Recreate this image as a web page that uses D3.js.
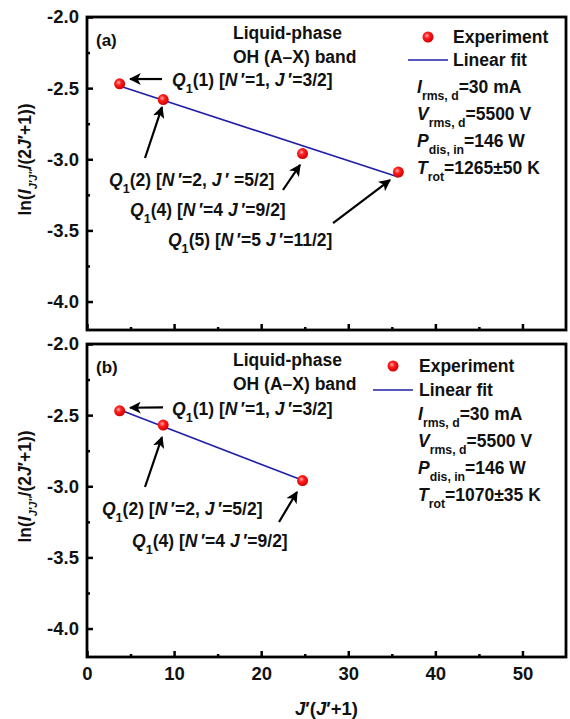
<!DOCTYPE html>
<html>
<head>
<meta charset="utf-8">
<script src="https://cdn.jsdelivr.net/npm/d3@7"></script>
<style>
  html, body { margin: 0; padding: 0; background: #fff; }
  svg { display: block; }
  text { font-family: "Liberation Sans", Arial, sans-serif; font-weight: bold; fill: #111; }
</style>
</head>
<body>
<svg id="chart" width="570" height="719"></svg>
<script>
// J'(J'+1) for the Q1 lines and the Boltzmann-plot ordinates
const xA = [3.75, 8.75, 24.75, 35.75];
const lnA = [-2.47, -2.58, -2.96, -3.09];
const xB = [3.75, 8.75, 24.75];
const lnB = [-2.47, -2.57, -2.96];

const xTicks = [0, 10, 20, 30, 40, 50];
const xMinor = [5, 15, 25, 35, 45];
const yTicks = [-2.0, -2.5, -3.0, -3.5, -4.0];
const yMinor = [-2.25, -2.75, -3.25, -3.75];

// Line labels: [Q index, N', J'] and their text / arrow positions in data units
const labelsA = [
  { q: "1", n: "1", j: "3/2", comma: true, gap: "", tx: 9.76, ty: -2.443, from: [8.61, -2.436], to: [4.94, -2.436] },
  { q: "2", n: "2", j: "5/2", comma: true, gap: " ", tx: 2.53, ty: -3.146, from: [6.66, -2.991], to: [8.61, -2.633] },
  { q: "4", n: "4", j: "9/2", comma: false, gap: "", tx: 4.94, ty: -3.357, from: [22.5, -3.216], to: [24.46, -3.040] },
  { q: "5", n: "5", j: "11/2", comma: false, gap: "", tx: 9.30, ty: -3.567, from: [28.25, -3.448], to: [34.79, -3.146] }
];
const labelsB = [
  { q: "1", n: "1", j: "3/2", comma: true, gap: "", tx: 9.76, ty: -2.457, from: [8.73, -2.445], to: [4.94, -2.448] },
  { q: "2", n: "2", j: "5/2", comma: true, gap: "", tx: 1.72, ty: -3.160, from: [6.66, -3.005], to: [8.61, -2.654] },
  { q: "4", n: "4", j: "9/2", comma: false, gap: "", tx: 5.17, ty: -3.385, from: [22.05, -3.251], to: [24.11, -3.040] }
];

// Discharge parameters shown beside each plot
const paramsA = [
  ["I", "rms, d", "=30 mA"],
  ["V", "rms, d", "=5500 V"],
  ["P", "dis, in", "=146 W"],
  ["T", "rot", "=1265\u00B150 K"]
];
const paramsB = [
  ["I", "rms, d", "=30 mA"],
  ["V", "rms, d", "=5500 V"],
  ["P", "dis, in", "=146 W"],
  ["T", "rot", "=1070\u00B135 K"]
];

const svg = d3.select("#chart");
const left = 87, right = 566;
const panelH = 313;
const xDomain = [0, 55];
const yDomain = [-4.2, -2.0];
const FONT = "Liberation Sans, Arial, sans-serif";

const x = d3.scaleLinear().domain(xDomain).range([left, right]);

const defs = svg.append("defs");
const grad = defs.append("radialGradient").attr("id", "dotGrad")
  .attr("cx", "40%").attr("cy", "38%").attr("r", "60%");
grad.append("stop").attr("offset", "0%").attr("stop-color", "#ffb0b0");
grad.append("stop").attr("offset", "40%").attr("stop-color", "#ff2020");
grad.append("stop").attr("offset", "100%").attr("stop-color", "#d40000");

defs.append("marker").attr("id", "arrowHead")
  .attr("viewBox", "0 0 10 10").attr("refX", 9).attr("refY", 5)
  .attr("markerWidth", 5.4).attr("markerHeight", 5.4).attr("markerUnits", "strokeWidth")
  .attr("orient", "auto")
  .append("path").attr("d", "M0,0 L10,5 L0,10 L2.5,5 Z").attr("fill", "#000");

// write a run of styled pieces into a text element
function rich(sel, parts) {
  parts.forEach(p => {
    const t = sel.append("tspan").text(p.t);
    if (p.i) t.attr("font-style", "italic");
    if (p.sub) t.attr("font-size", p.fs || "0.72em").attr("baseline-shift", "sub");
  });
  return sel;
}

function linearFit(xs, ys) {
  const mx = d3.mean(xs), my = d3.mean(ys);
  const sxy = d3.sum(xs, (v, i) => (v - mx) * (ys[i] - my));
  const sxx = d3.sum(xs, v => (v - mx) * (v - mx));
  const b = sxy / sxx;
  return { b, a: my - b * mx };
}

function styleTicks(a) {
  a.select(".domain").remove();
  a.selectAll("line").attr("stroke", "#000").attr("stroke-width", 2.5);
  a.selectAll("text").attr("font-size", 18.5).attr("fill", "#111")
    .attr("font-family", FONT).attr("font-weight", "bold");
}

function drawPanel(top, tag, xs, ys, labels, params, leg, showXLabels) {
  const bottom = top + panelH;
  const y = d3.scaleLinear().domain(yDomain).range([bottom, top]);
  const g = svg.append("g");

  // y axis: inward major and minor ticks
  g.append("g").attr("transform", `translate(${left},0)`)
    .call(d3.axisLeft(y).tickValues(yTicks).tickSize(-6).tickPadding(8).tickFormat(d => d.toFixed(1)))
    .call(styleTicks);
  g.append("g").attr("transform", `translate(${left},0)`)
    .call(d3.axisLeft(y).tickValues(yMinor).tickSize(-3).tickFormat(""))
    .call(styleTicks);

  // x axis
  g.append("g").attr("transform", `translate(0,${bottom})`)
    .call(d3.axisBottom(x).tickValues(xTicks).tickSize(-6).tickPadding(10)
      .tickFormat(showXLabels ? d3.format("d") : ""))
    .call(styleTicks);
  g.append("g").attr("transform", `translate(0,${bottom})`)
    .call(d3.axisBottom(x).tickValues(xMinor).tickSize(-3).tickFormat(""))
    .call(styleTicks);

  // frame
  g.append("rect").attr("x", left).attr("y", top)
    .attr("width", right - left).attr("height", panelH)
    .attr("fill", "none").attr("stroke", "#000").attr("stroke-width", 2.8);

  // y axis title
  const yl = g.append("text")
    .attr("transform", `translate(31,${top + panelH / 2 - 14}) rotate(-90)`)
    .attr("text-anchor", "middle").attr("font-size", 17.5);
  rich(yl, [
    { t: "ln(" }, { t: "I", i: true },
    { t: "J\u2032J\u2033", i: true, sub: true, fs: "0.62em" },
    { t: "/(2" }, { t: "J", i: true }, { t: "\u2032+1))" }
  ]);

  // panel tag and band title
  g.append("text").attr("x", 96).attr("y", top + 29).attr("font-size", 17).text(tag);
  g.append("text").attr("x", 233).attr("y", top + 22).attr("font-size", 17.5).text("Liquid-phase");
  g.append("text").attr("x", 233).attr("y", top + 46).attr("font-size", 17.5).text("OH (A\u2013X) band");

  // linear fit
  const fit = linearFit(xs, ys);
  const xr = d3.extent(xs);
  g.append("line")
    .attr("x1", x(xr[0])).attr("y1", y(fit.a + fit.b * xr[0]))
    .attr("x2", x(xr[1])).attr("y2", y(fit.a + fit.b * xr[1]))
    .attr("stroke", "#1f1fa8").attr("stroke-width", 1.6);

  // experimental points
  g.selectAll("circle.pt").data(xs.map((v, i) => [v, ys[i]])).join("circle")
    .attr("class", "pt").attr("cx", d => x(d[0])).attr("cy", d => y(d[1]))
    .attr("r", 5.5).attr("fill", "url(#dotGrad)");

  // line labels with arrows
  labels.forEach(l => {
    g.append("line")
      .attr("x1", x(l.from[0])).attr("y1", y(l.from[1]))
      .attr("x2", x(l.to[0])).attr("y2", y(l.to[1]))
      .attr("stroke", "#000").attr("stroke-width", 2.2)
      .attr("marker-end", "url(#arrowHead)");
    const t = g.append("text").attr("x", x(l.tx)).attr("y", y(l.ty)).attr("dy", "0.36em")
      .attr("font-size", 17.5);
    rich(t, [
      { t: "Q", i: true }, { t: "1", sub: true }, { t: `(${l.q}) [` },
      { t: "N", i: true }, { t: `\u2009\u2032=${l.n}${l.comma ? "," : ""} ` },
      { t: "J", i: true }, { t: `\u2009\u2032${l.gap}=${l.j}]` }
    ]);
  });

  // legend
  g.append("circle").attr("cx", leg.dotX).attr("cy", top + leg.row1)
    .attr("r", 5.5).attr("fill", "url(#dotGrad)");
  g.append("text").attr("x", leg.textX).attr("y", top + leg.row1).attr("dy", "0.36em")
    .attr("font-size", 17.5).text("Experiment");
  g.append("line").attr("x1", leg.lineX0).attr("x2", leg.lineX1)
    .attr("y1", top + leg.row2).attr("y2", top + leg.row2)
    .attr("stroke", "#1f1fa8").attr("stroke-width", 1.6);
  g.append("text").attr("x", leg.textX).attr("y", top + leg.row2).attr("dy", "0.36em")
    .attr("font-size", 17.5).text("Linear fit");

  params.forEach((p, i) => {
    const t = g.append("text").attr("x", leg.paramX).attr("y", top + 70 + i * 27)
      .attr("dy", "0.36em").attr("font-size", 17.5);
    rich(t, [{ t: p[0], i: true }, { t: p[1], sub: true, fs: "0.7em" }, { t: p[2] }]);
  });
}

drawPanel(17, "(a)", xA, lnA, labelsA, paramsA,
  { dotX: 428, textX: 453, lineX0: 408, lineX1: 448, row1: 20, row2: 43, paramX: 417 }, false);
drawPanel(344, "(b)", xB, lnB, labelsB, paramsB,
  { dotX: 393, textX: 419, lineX0: 373, lineX1: 413, row1: 22, row2: 46, paramX: 418 }, true);

// x axis title
const xl = svg.append("text").attr("x", (left + right) / 2).attr("y", 715)
  .attr("text-anchor", "middle").attr("font-size", 18.5);
rich(xl, [{ t: "J", i: true }, { t: "\u2032(" }, { t: "J", i: true }, { t: "\u2032+1)" }]);
</script>
</body>
</html>
